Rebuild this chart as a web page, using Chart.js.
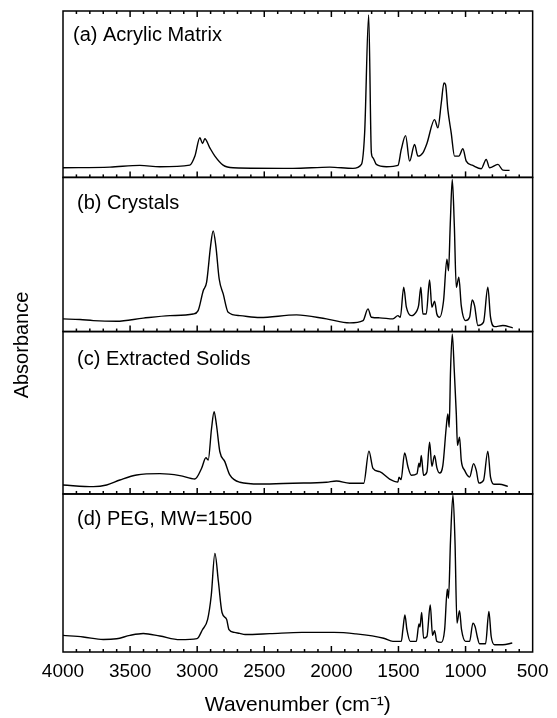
<!DOCTYPE html>
<html>
<head>
<meta charset="utf-8">
<script src="https://cdn.jsdelivr.net/npm/chart.js@4"></script>
<style>
  html, body { margin: 0; padding: 0; background: #fff; }
  #wrap { width: 557px; height: 718px; }
</style>
</head>
<body>
<div id="wrap"><canvas id="c" width="557" height="718"></canvas></div>
<script>
// ---- data (wavenumber in cm-1, relative absorbance 0..1 within each panel) ----
const xTickLabels = [4000, 3500, 3000, 2500, 2000, 1500, 1000, 500];
const panelLabels = ['(a) Acrylic Matrix', '(b) Crystals', '(c) Extracted Solids', '(d) PEG, MW=1500'];
const yTitle = 'Absorbance';
const xTitle = 'Wavenumber (cm⁻¹)';

const wnA = [4000, 3650, 3427, 3278, 3055, 3017, 2980, 2960, 2943, 2906, 2868, 2807, 2732, 2286, 2012, 1839, 1776, 1752, 1722, 1702, 1690, 1665, 1590, 1504, 1479, 1447, 1417, 1380, 1355, 1318, 1288, 1231, 1206, 1181, 1161, 1149, 1132, 1107, 1082, 1050, 1020, 995, 946, 883, 846, 821, 759, 722, 672];
const absA = [0.058, 0.062, 0.072, 0.064, 0.074, 0.128, 0.238, 0.204, 0.232, 0.178, 0.128, 0.074, 0.058, 0.054, 0.062, 0.054, 0.078, 0.268, 0.976, 0.148, 0.118, 0.078, 0.064, 0.072, 0.168, 0.251, 0.098, 0.198, 0.128, 0.148, 0.204, 0.347, 0.298, 0.447, 0.567, 0.557, 0.407, 0.268, 0.128, 0.128, 0.172, 0.098, 0.072, 0.052, 0.108, 0.058, 0.078, 0.044, 0.042];

const wnB = [4000, 3873, 3774, 3600, 3402, 3203, 3030, 2993, 2955, 2930, 2900, 2881, 2861, 2836, 2806, 2769, 2682, 2533, 2260, 2037, 1864, 1764, 1727, 1702, 1640, 1541, 1504, 1486, 1461, 1441, 1404, 1362, 1350, 1333, 1318, 1293, 1268, 1251, 1231, 1214, 1194, 1164, 1139, 1127, 1114, 1099, 1084, 1069, 1050, 1032, 1000, 970, 950, 933, 908, 866, 834, 814, 784, 722, 648];
const absB = [0.082, 0.078, 0.071, 0.067, 0.087, 0.103, 0.114, 0.136, 0.265, 0.319, 0.556, 0.653, 0.556, 0.341, 0.244, 0.125, 0.103, 0.091, 0.108, 0.082, 0.056, 0.071, 0.147, 0.093, 0.089, 0.082, 0.103, 0.093, 0.287, 0.158, 0.103, 0.136, 0.168, 0.287, 0.114, 0.114, 0.334, 0.158, 0.197, 0.114, 0.093, 0.2, 0.47, 0.394, 0.696, 0.987, 0.696, 0.287, 0.352, 0.168, 0.071, 0.093, 0.205, 0.168, 0.039, 0.061, 0.287, 0.093, 0.032, 0.039, 0.024];

const wnC = [4000, 3774, 3675, 3576, 3451, 3278, 3129, 3017, 2967, 2935, 2918, 2893, 2874, 2856, 2831, 2794, 2757, 2682, 2533, 2286, 2037, 1962, 1864, 1759, 1720, 1690, 1640, 1566, 1504, 1496, 1481, 1454, 1429, 1404, 1362, 1347, 1340, 1330, 1313, 1288, 1268, 1251, 1231, 1214, 1194, 1169, 1144, 1132, 1122, 1112, 1099, 1084, 1069, 1060, 1045, 1032, 1007, 970, 940, 920, 901, 866, 834, 814, 784, 747, 685];
const absC = [0.055, 0.045, 0.055, 0.086, 0.117, 0.125, 0.113, 0.092, 0.158, 0.223, 0.209, 0.403, 0.506, 0.423, 0.26, 0.199, 0.117, 0.072, 0.061, 0.066, 0.072, 0.08, 0.066, 0.066, 0.264, 0.158, 0.137, 0.092, 0.074, 0.104, 0.088, 0.252, 0.166, 0.115, 0.125, 0.19, 0.166, 0.237, 0.115, 0.135, 0.319, 0.17, 0.237, 0.162, 0.129, 0.176, 0.411, 0.493, 0.411, 0.759, 0.984, 0.759, 0.493, 0.299, 0.35, 0.207, 0.145, 0.104, 0.187, 0.145, 0.067, 0.084, 0.264, 0.104, 0.06, 0.06, 0.047];

const wnD = [4000, 3849, 3700, 3600, 3501, 3402, 3278, 3129, 3001, 2961, 2922, 2895, 2868, 2842, 2815, 2781, 2763, 2723, 2683, 2643, 2458, 2220, 1981, 1822, 1610, 1541, 1479, 1467, 1452, 1437, 1412, 1367, 1347, 1340, 1327, 1313, 1288, 1263, 1246, 1231, 1214, 1181, 1156, 1136, 1127, 1112, 1094, 1079, 1064, 1045, 1030, 1000, 970, 945, 928, 913, 896, 851, 826, 809, 784, 722, 652];
const absD = [0.105, 0.095, 0.079, 0.084, 0.105, 0.117, 0.101, 0.078, 0.085, 0.141, 0.207, 0.359, 0.624, 0.446, 0.25, 0.207, 0.141, 0.124, 0.118, 0.111, 0.116, 0.124, 0.124, 0.115, 0.087, 0.067, 0.067, 0.141, 0.235, 0.141, 0.067, 0.067, 0.178, 0.158, 0.25, 0.088, 0.098, 0.298, 0.105, 0.135, 0.067, 0.061, 0.141, 0.397, 0.34, 0.708, 0.992, 0.708, 0.183, 0.262, 0.141, 0.067, 0.067, 0.183, 0.158, 0.098, 0.052, 0.052, 0.256, 0.098, 0.046, 0.046, 0.057];

// ---- chart ----
const FONT = '"Liberation Sans", Arial, Helvetica, sans-serif';
const panelIds = ['yA', 'yB', 'yC', 'yD'];
const panelWeights = [167, 154.7, 163, 158.6];
const labelX = [73, 77, 77, 77];
const labelDy = [30, 31.5, 33, 31];
const series = [[wnA, absA], [wnB, absB], [wnC, absC], [wnD, absD]];

const datasets = series.map(([wn, ab], i) => ({
  label: panelLabels[i],
  data: wn.map((w, k) => ({ x: w, y: ab[k] })),
  yAxisID: panelIds[i],
  borderColor: '#000',
  borderWidth: 1.4,
  pointRadius: 0,
  fill: false,
  cubicInterpolationMode: 'monotone'
}));

const scales = {
  x: {
    type: 'linear', position: 'bottom', min: 500, max: 4000, reverse: true,
    afterBuildTicks: s => { s.ticks = xTickLabels.map(v => ({ value: v })); },
    ticks: { font: { size: 19, family: FONT }, color: '#000', padding: 8.5, maxRotation: 0, autoSkip: false, callback: v => String(v) },
    grid: { display: false, drawTicks: false },
    border: { display: false },
    title: { display: true, text: xTitle, color: '#000', font: { size: 21, family: FONT }, padding: { top: 1, bottom: 0 } }
  }
};
// stacked axes are laid out bottom-up in definition order, so define panel (d) first
panelIds.slice().reverse().forEach(id => {
  const i = panelIds.indexOf(id);
  scales[id] = { type: 'linear', position: 'left', min: 0, max: 1, display: false, stack: 'spectra', stackWeight: panelWeights[i] };
});

const decor = {
  id: 'decor',
  afterDraw(chart) {
    const ctx = chart.ctx, xs = chart.scales.x;
    const L = chart.chartArea.left, R = chart.chartArea.right;
    ctx.save();
    ctx.strokeStyle = '#000';
    ctx.fillStyle = '#000';
    ctx.lineWidth = 1.5;
    const seg = (x1, y1, x2, y2) => { ctx.beginPath(); ctx.moveTo(x1, y1); ctx.lineTo(x2, y2); ctx.stroke(); };
    const tops = panelIds.map(id => chart.scales[id].top);
    const topId = panelIds[tops.indexOf(Math.min(...tops))];
    panelIds.forEach((id, i) => {
      const ys = chart.scales[id];
      ctx.strokeRect(L, ys.top, R - L, ys.bottom - ys.top);
      for (let w = 600; w < 4000; w += 100) {
        const px = xs.getPixelForValue(w);
        const len = (w % 500 === 0) ? 6 : 3;
        seg(px, ys.bottom, px, ys.bottom - len);
        if (id === topId) seg(px, ys.top, px, ys.top + len);
      }
      ctx.font = '20px ' + FONT;
      ctx.textAlign = 'left';
      ctx.textBaseline = 'alphabetic';
      ctx.fillText(panelLabels[i], labelX[i], ys.top + labelDy[i]);
    });
    ctx.translate(22, 345);
    ctx.rotate(-Math.PI / 2);
    ctx.font = '20px ' + FONT;
    ctx.textAlign = 'center';
    ctx.textBaseline = 'middle';
    ctx.fillText(yTitle, 0, 0);
    ctx.restore();
  }
};

new Chart(document.getElementById('c'), {
  type: 'line',
  data: { datasets },
  options: {
    responsive: false,
    animation: false,
    devicePixelRatio: 1,
    layout: { padding: { top: 11, left: 63, right: 24, bottom: 0 } },
    plugins: { legend: { display: false }, tooltip: { enabled: false } },
    scales
  },
  plugins: [decor]
});
</script>
</body>
</html>
